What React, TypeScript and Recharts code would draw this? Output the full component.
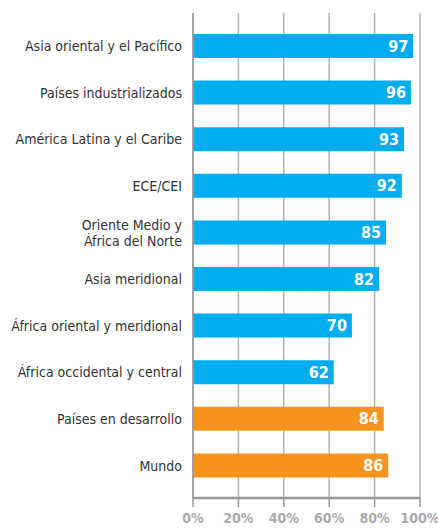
import { Bar, BarChart, CartesianGrid, Cell, LabelList, XAxis, YAxis } from "recharts";

const regions = [
  "Asia oriental y el Pacífico",
  "Países industrializados",
  "América Latina y el Caribe",
  "ECE/CEI",
  "Oriente Medio y\nÁfrica del Norte",
  "Asia meridional",
  "África oriental y meridional",
  "África occidental y central",
  "Países en desarrollo",
  "Mundo",
];
const values = [97, 96, 93, 92, 85, 82, 70, 62, 84, 86];
const isAggregate = [false, false, false, false, false, false, false, false, true, true];
const xTicks = [0, 20, 40, 60, 80, 100];

const BLUE = "#00aeef";
const ORANGE = "#f7941d";
const FONT = "'DejaVu Sans Condensed', Roboto, sans-serif";

const data = regions.map((name, i) => ({ name, value: values[i], agg: isAggregate[i] }));

const CategoryTick = (props: any) => {
  const { x, y, payload } = props;
  const lines = String(payload.value).split("\n");
  const lh = 16;
  const start = -((lines.length - 1) * lh) / 2;
  return (
    <text x={x} y={y} textAnchor="end" fill="#333" fontSize={14} fontFamily={FONT}>
      {lines.map((l, i) => (
        <tspan key={i} x={x} y={y + start + i * lh} dy="0.35em">
          {l}
        </tspan>
      ))}
    </text>
  );
};

const App = () => {
  return (
    <div style={{ position: "absolute", left: 0, top: 0 }}>
      <BarChart
        width={438}
        height={528}
        data={data}
        layout="vertical"
        margin={{ top: 13, right: 18, bottom: 0, left: 0 }}
      >
        <CartesianGrid horizontal={false} stroke="#b3b3b3" strokeWidth={1.5} />
        <XAxis
          xAxisId="top"
          orientation="top"
          type="number"
          domain={[0, 100]}
          ticks={xTicks}
          height={0}
          tick={false}
          tickLine={false}
          axisLine={{ stroke: "#b3b3b3", strokeWidth: 1.5 }}
        />
        <XAxis
          type="number"
          domain={[0, 100]}
          ticks={xTicks}
          height={30}
          tickSize={9}
          tickMargin={6}
          interval={0}
          tickFormatter={(v: number) => `${v}%`}
          tick={{ fill: "#aaaaaa", fontSize: 14, fontWeight: "bold", fontFamily: FONT }}
          tickLine={{ stroke: "#999", strokeWidth: 1.5 }}
          axisLine={{ stroke: "#999", strokeWidth: 2.5 }}
        />
        <YAxis
          type="category"
          dataKey="name"
          width={193}
          padding={{ top: 10, bottom: 9 }}
          tickLine={false}
          tickMargin={5}
          axisLine={{ stroke: "#999", strokeWidth: 1.5 }}
          tick={<CategoryTick />}
          interval={0}
        />
        <Bar dataKey="value" barSize={24} isAnimationActive={false}>
          {data.map((d, i) => (
            <Cell key={i} fill={d.agg ? ORANGE : BLUE} />
          ))}
          <LabelList
            dataKey="value"
            position="insideRight"
            offset={5}
            fill="#ffffff"
            fontSize={16}
            fontWeight="bold"
            fontFamily={FONT}
          />
        </Bar>
      </BarChart>
    </div>
  );
};

export default App;
